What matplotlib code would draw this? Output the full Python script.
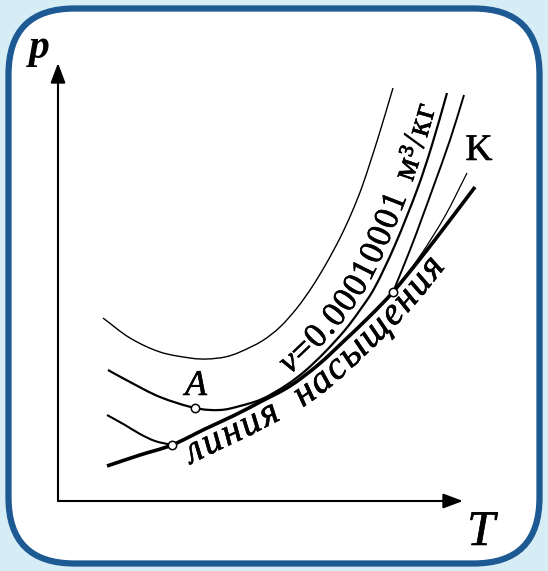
import numpy as np
import matplotlib
matplotlib.use("Agg")
import matplotlib.pyplot as plt
import matplotlib.patheffects as pe
from matplotlib.path import Path
from matplotlib.patches import FancyBboxPatch, PathPatch
from matplotlib.font_manager import FontProperties, findfont, get_font

try:
    from matplotlib.ft2font import LoadFlags
    NO_HINT = LoadFlags.NO_HINTING
except ImportError:
    from matplotlib.ft2font import LOAD_NO_HINTING as NO_HINT

# p-T diagram, 1 unit = 1 px, origin at the corner of the axes
top_T = [45, 72, 102, 132, 149, 167, 182, 204, 222, 239, 254, 268, 282, 294, 305, 320, 335]
top_p = [183, 163, 149, 143, 142, 144, 149, 160, 174, 193, 214, 237, 263, 289, 317, 363, 413]

iso_T = [50, 72, 102, 137, 162, 182, 204, 227, 247, 267, 287, 302, 317, 337, 359, 374, 389]
iso_p = [131, 119, 104, 93, 91, 95, 102, 115, 130, 149, 171, 191, 214, 256, 311, 356, 408]

sat_T = [49, 82, 114, 147, 177, 204, 232, 260, 287, 312, 335, 362, 389, 417]
sat_p = [35, 46, 56, 72, 86, 100, 115, 136, 161, 185, 209, 242, 277, 314]

low_T = [49, 67, 82, 97, 114]
low_p = [86, 76, 67, 60, 56]

steep_T = [335, 352, 364, 376, 392, 406]
steep_p = [209, 251, 283, 316, 361, 406]

crit_T = [335, 362, 387, 409]
crit_p = [209, 245, 285, 328]

pts_T = [137, 114, 335]
pts_p = [93, 56, 209]

T_max, p_max = 405, 438

iso_label = "v=0.00010001 м³/кг"
sat_label = "линия насыщения"

BG = "#d6edf6"
FRAME = "#1d5a94"
SERIF = ["Liberation Serif", "DejaVu Serif"]
INK = [pe.withStroke(linewidth=0.4, foreground="black")]


def smooth_path(T, p):
    pts = np.column_stack([T, p]).astype(float)
    ext = np.vstack([2 * pts[0] - pts[1], pts, 2 * pts[-1] - pts[-2]])
    verts = [pts[0]]
    codes = [Path.MOVETO]
    for i in range(1, len(ext) - 2):
        p0, p1, p2, p3 = ext[i - 1], ext[i], ext[i + 1], ext[i + 2]
        verts += [p1 + (p2 - p0) / 6, p2 - (p3 - p1) / 6, p2]
        codes += [Path.CURVE4] * 3
    return Path(verts, codes)


def sample(T, p, n=24):
    v = smooth_path(T, p).vertices
    t = np.linspace(0, 1, n)[1:, None]
    out = [v[:1]]
    for k in range(1, len(v), 3):
        a, b, c, d = v[k - 1], v[k], v[k + 1], v[k + 2]
        out.append((1 - t) ** 3 * a + 3 * (1 - t) ** 2 * t * b
                   + 3 * (1 - t) * t ** 2 * c + t ** 3 * d)
    return np.vstack(out)


def advance(ch, fp):
    font = get_font(findfont(fp))
    font.set_size(fp.get_size_in_points(), 72)
    g = font.load_char(ord(ch), flags=NO_HINT)
    return g.linearHoriAdvance / 65536 * 100 / 72


def text_on_curve(ax, T, p, text, styles, size, t_from, offset,
                  tracking=0.0, word_gap=0.0):
    pts = sample(T, p)
    d = np.gradient(pts, axis=0)
    nrm = np.column_stack([-d[:, 1], d[:, 0]])
    nrm /= np.hypot(nrm[:, 0], nrm[:, 1])[:, None]
    pts = pts + offset * nrm
    s = np.concatenate([[0], np.cumsum(np.hypot(*np.diff(pts, axis=0).T))])
    pos = np.interp(t_from, pts[:, 0], s)
    props = [FontProperties(family=SERIF, style=st, size=size) for st in styles]
    for ch, fp in zip(text, props):
        w = advance(ch, fp)
        x, y = np.interp(pos, s, pts[:, 0]), np.interp(pos, s, pts[:, 1])
        x2, y2 = np.interp(pos + w, s, pts[:, 0]), np.interp(pos + w, s, pts[:, 1])
        ang = np.degrees(np.arctan2(y2 - y, x2 - x))
        ax.text(x, y, ch, fontproperties=fp, rotation=ang, rotation_mode="anchor",
                ha="left", va="baseline", color="black", path_effects=INK)
        pos += w + tracking + (word_gap if ch == " " else 0.0)


fig = plt.figure(figsize=(5.48, 5.71), dpi=100, facecolor=BG)
ax = fig.add_axes([0, 0, 1, 1])
ax.set_xlim(-58, 490)
ax.set_ylim(-70, 501)
ax.axis("off")

ax.add_patch(FancyBboxPatch((-49.5, -62.5), 531, 555,
                            boxstyle="round,pad=0,rounding_size=66",
                            fc="white", ec=FRAME, lw=4.5))

# axes with arrows
arrow = dict(arrowstyle="-|>,head_length=1.2,head_width=0.45", lw=1.5,
             color="black", shrinkA=0, shrinkB=0, mutation_scale=10)
ax.annotate("", xy=(0, p_max), xytext=(0, 0), arrowprops=arrow)
ax.annotate("", xy=(T_max, 0), xytext=(0, 0), arrowprops=arrow)

curves = [
    (top_T, top_p, 1.0),
    (iso_T, iso_p, 1.6),
    (low_T, low_p, 1.5),
    (steep_T, steep_p, 1.4),
    (crit_T, crit_p, 0.9),
    (sat_T, sat_p, 2.6),
]
for T, p, lw in curves:
    ax.add_patch(PathPatch(smooth_path(T, p), fc="none", ec="black", lw=lw,
                           capstyle="butt"))

ax.plot(pts_T, pts_p, "o", ms=6, mfc="white", mec="black", mew=1.1, zorder=5)

ax.text(-19, 443, "p", family=SERIF, style="italic", weight="bold", size=30,
        ha="center", va="baseline")
ax.text(423, -44, "T", family=SERIF, style="italic", size=36,
        ha="center", va="baseline", path_effects=INK)
ax.text(138, 106, "A", family=SERIF, style="italic", size=26,
        ha="center", va="baseline", path_effects=INK)
ax.text(421, 341, "K", family=SERIF, size=27, ha="center", va="baseline",
        path_effects=INK)

text_on_curve(ax, iso_T, iso_p, iso_label,
              ["italic"] + ["normal"] * (len(iso_label) - 1),
              25, 231, 7, tracking=1.5, word_gap=4)
text_on_curve(ax, sat_T, sat_p, sat_label, ["italic"] * len(sat_label),
              28, 133, -25, tracking=2.0, word_gap=10)

fig.savefig("out.png", dpi=100, facecolor=BG)
